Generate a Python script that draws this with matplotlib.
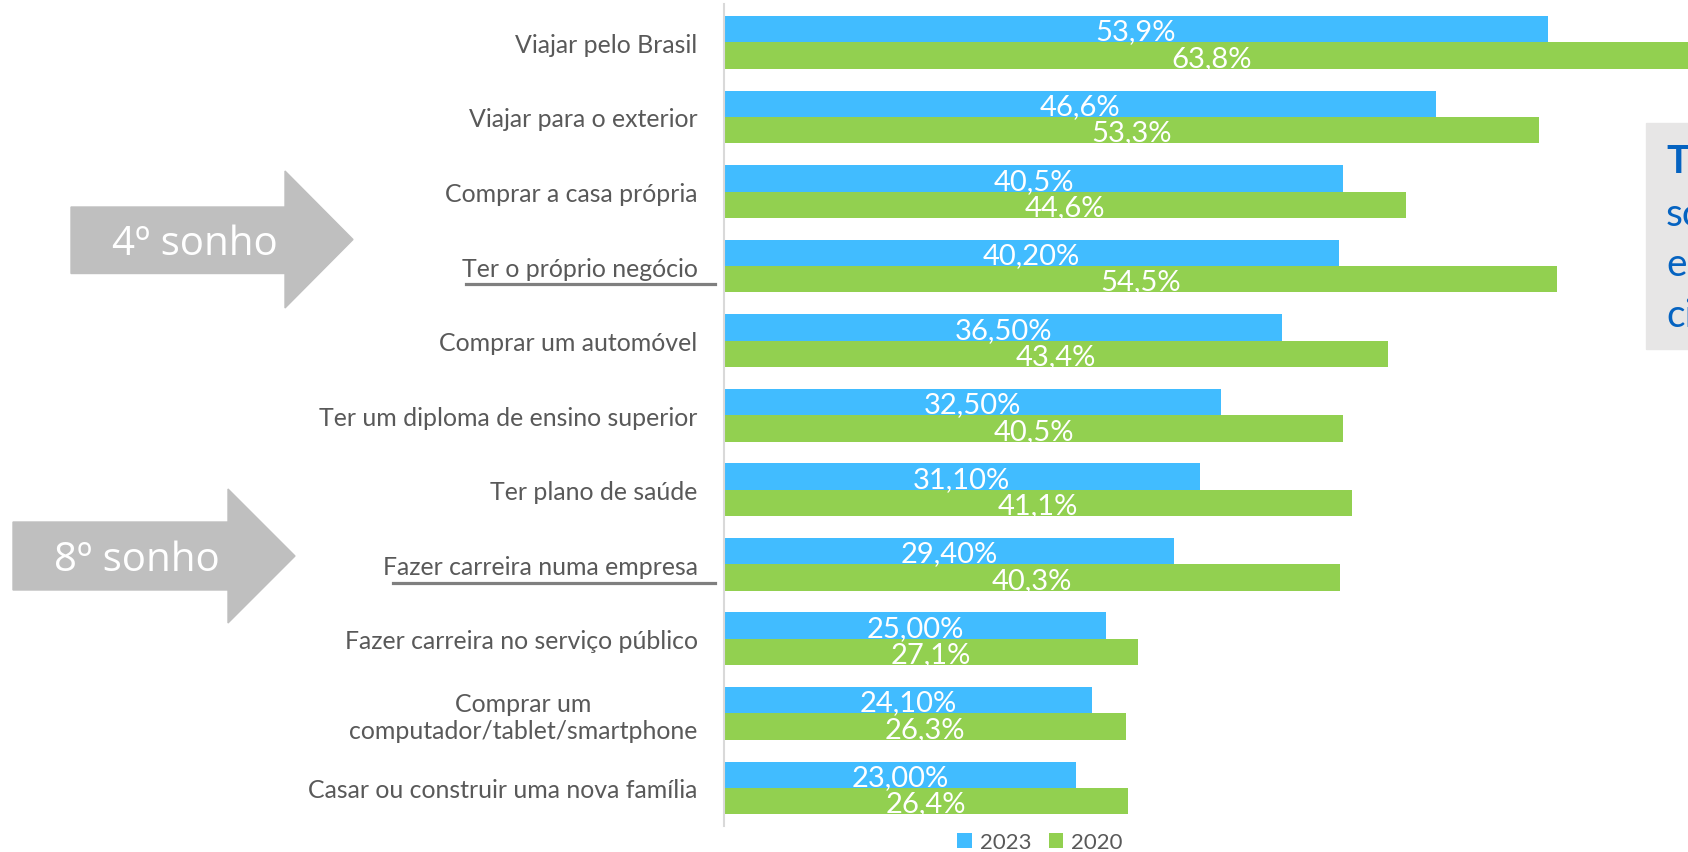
import matplotlib.pyplot as plt
from matplotlib.patches import Polygon, Rectangle
from matplotlib.lines import Line2D

# dados
categorias = ["Viajar pelo Brasil", "Viajar para o exterior", "Comprar a casa própria",
              "Ter o próprio negócio", "Comprar um automóvel",
              "Ter um diploma de ensino superior", "Ter plano de saúde",
              "Fazer carreira numa empresa", "Fazer carreira no serviço público",
              "Comprar um\ncomputador/tablet/smartphone", "Casar ou construir uma nova família"]
v2023 = [53.9, 46.6, 40.5, 40.2, 36.5, 32.5, 31.1, 29.4, 25.0, 24.1, 23.0]
v2020 = [63.8, 53.3, 44.6, 54.5, 43.4, 40.5, 41.1, 40.3, 27.1, 26.3, 26.4]
rot2023 = ["53,9%", "46,6%", "40,5%", "40,20%", "36,50%", "32,50%", "31,10%",
           "29,40%", "25,00%", "24,10%", "23,00%"]
rot2020 = ["63,8%", "53,3%", "44,6%", "54,5%", "43,4%", "40,5%", "41,1%",
           "40,3%", "27,1%", "26,3%", "26,4%"]

plt.rcParams['font.family'] = ['Lato', 'DejaVu Sans']

W, H = 1688, 853
fig = plt.figure(figsize=(W / 100, H / 100), dpi=100)

def px(x, y):
    # pixel (origem em cima) -> fração da figura
    return (x / W, 1 - y / H)

azul = '#41BCFF'
verde = '#92D050'
cinza_txt = '#595959'

ax = fig.add_axes([724 / W, 1 - 827 / H, (W - 724) / W, (827 - 5.4) / H])
y = list(range(len(categorias)))
h = 0.354
ax.barh([i - h / 2 for i in y], v2023, height=h, color=azul, label='2023')
ax.barh([i + h / 2 for i in y], v2020, height=h, color=verde, label='2020')

for i in y:
    ax.text(v2023[i] / 2, i - h / 2 + 0.03, rot2023[i], ha='center', va='center',
            color='white', fontsize=21, clip_on=False)
    ax.text(v2020[i] / 2, i + h / 2 + 0.03, rot2020[i], ha='center', va='center',
            color='white', fontsize=21, clip_on=False)

ax.set_xlim(0, 63.05)
ax.set_ylim(10.51, -0.51)
ax.set_yticks(y)
ax.set_yticklabels(categorias, fontsize=17.9, color=cinza_txt)
for t in ax.get_yticklabels():
    t.set_multialignment('center')
ax.tick_params(axis='y', length=0, pad=19)
ax.set_xticks([])
for s in ['top', 'right', 'bottom']:
    ax.spines[s].set_visible(False)
ax.spines['left'].set_color('#d9d9d9')
ax.spines['left'].set_linewidth(1.5)

fig.legend(loc='center', bbox_to_anchor=(1040 / W, 1 - 843 / H), ncol=2,
           frameon=False, fontsize=16, labelcolor=cinza_txt,
           handlelength=0.65, handleheight=0.65, handletextpad=0.35,
           columnspacing=0.8, borderpad=0)

# setas
def seta(x0, x1, xt, yb0, yb1, yh0, yh1, cor='#BFBFBF'):
    ym = (yh0 + yh1) / 2
    pts = [px(x0, yb0), px(x1, yb0), px(x1, yh0), px(xt, ym),
           px(x1, yh1), px(x1, yb1), px(x0, yb1)]
    fig.patches.append(Polygon(pts, closed=True, color=cor,
                               transform=fig.transFigure, zorder=0))

seta(71, 285, 353, 208, 274.5, 172, 309)
fig.text(*px(195, 245), "4º sonho", ha='center', va='center', color='white',
         fontsize=29, family=['Open Sans', 'DejaVu Sans'])
seta(13, 228, 295, 523, 591, 490, 624)
fig.text(*px(137, 561), "8º sonho", ha='center', va='center', color='white',
         fontsize=29, family=['Open Sans', 'DejaVu Sans'])

# sublinhados
for xa, yl in [(466, 285), (393, 583.5)]:
    fig.add_artist(Line2D([xa / W, 715 / W], [1 - yl / H, 1 - yl / H],
                          color='#7F7F7F', lw=2.3, transform=fig.transFigure))

# caixa à direita (cortada)
fig.patches.append(Rectangle(px(1646, 350), (W - 1646) / W, (350 - 124) / H,
                             color='#E7E6E6', transform=fig.transFigure, zorder=0))
fig.text(*px(1666, 173), "Te", color='#0563C1', fontsize=28, fontweight='bold',
         va='baseline', ha='left')
for yy, tx in [(226, "so"), (276, "e"), (327, "ci")]:
    fig.text(*px(1666, yy), tx, color='#0563C1', fontsize=28, va='baseline', ha='left')

fig.savefig("out.png", dpi=100)
